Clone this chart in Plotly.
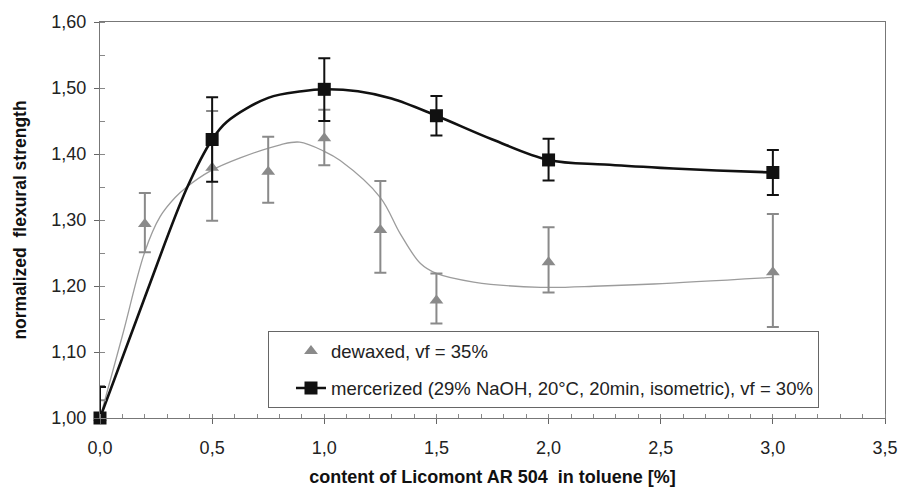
import plotly.graph_objects as go

# ---- data ----
x_dewaxed = [0.0, 0.2, 0.5, 0.75, 1.0, 1.25, 1.5, 2.0, 3.0]
y_dewaxed = [1.000, 1.294, 1.379, 1.373, 1.424, 1.285, 1.178, 1.236, 1.221]
err_dewaxed_plus = [0.027, 0.047, 0.086, 0.053, 0.043, 0.074, 0.041, 0.053, 0.088]
err_dewaxed_minus = [0.0, 0.043, 0.080, 0.047, 0.041, 0.065, 0.035, 0.046, 0.083]

x_merc = [0.0, 0.5, 1.0, 1.5, 2.0, 3.0]
y_merc = [1.000, 1.422, 1.498, 1.458, 1.391, 1.372]
err_merc_plus = [0.047, 0.064, 0.047, 0.030, 0.032, 0.034]
err_merc_minus = [0.0, 0.064, 0.048, 0.030, 0.031, 0.034]

# fitted trend curves
fit_dewaxed_x = [0.0, 0.1, 0.2, 0.268, 0.335, 0.387, 0.491, 0.625, 0.804, 0.89, 1.0,
                 1.071, 1.25, 1.339, 1.429, 1.5, 1.666, 1.964, 2.232, 2.469, 3.0]
fit_dewaxed_y = [1.000, 1.125, 1.252, 1.305, 1.334, 1.350, 1.374, 1.394, 1.414, 1.418, 1.404,
                 1.390, 1.334, 1.279, 1.234, 1.219, 1.206, 1.198, 1.200, 1.203, 1.213]

fit_merc_x = [0.0, 0.2, 0.387, 0.5, 0.566, 0.75, 0.9, 1.0, 1.15, 1.3, 1.5, 1.75, 2.0, 2.25, 2.5, 2.75, 3.0]
fit_merc_y = [1.000, 1.183, 1.348, 1.422, 1.449, 1.485, 1.495, 1.498, 1.495, 1.484, 1.458, 1.422,
              1.391, 1.384, 1.379, 1.375, 1.372]

name_dewaxed = "dewaxed, vf = 35%"
name_merc = "mercerized (29% NaOH, 20°C, 20min, isometric), vf = 30%"

x_title = "content of Licomont AR 504  in toluene [%]"
y_title = "normalized  flexural strength"

GRAY = "#8a8a8a"
BLACK = "#111111"
FONT = "Liberation Sans, Arial, sans-serif"

fig = go.Figure()

fig.add_trace(go.Scatter(
    x=fit_dewaxed_x, y=fit_dewaxed_y, mode="lines",
    line=dict(color="#9c9c9c", width=1.3, shape="spline"),
    showlegend=False, hoverinfo="skip"))

fig.add_trace(go.Scatter(
    x=fit_merc_x, y=fit_merc_y, mode="lines",
    line=dict(color=BLACK, width=2.6, shape="spline"),
    showlegend=False, hoverinfo="skip"))

fig.add_trace(go.Scatter(
    x=x_dewaxed, y=y_dewaxed, mode="markers", name=name_dewaxed,
    legendgroup="dew",
    marker=dict(symbol="triangle-up", size=12, color=GRAY),
    error_y=dict(type="data", array=err_dewaxed_plus, arrayminus=err_dewaxed_minus,
                 color=GRAY, thickness=2, width=6),
    cliponaxis=False))

fig.add_trace(go.Scatter(
    x=x_merc, y=y_merc, mode="markers", name=name_merc, showlegend=False,
    legendgroup="merc",
    marker=dict(symbol="square", size=13, color=BLACK),
    error_y=dict(type="data", array=err_merc_plus, arrayminus=err_merc_minus,
                 color=BLACK, thickness=2, width=6),
    cliponaxis=False))

# legend-only entry (line + marker) for the mercerized series
fig.add_trace(go.Scatter(
    x=[None], y=[None], mode="lines+markers", name=name_merc, legendgroup="merc",
    line=dict(color=BLACK, width=2.6),
    marker=dict(symbol="square", size=13, color=BLACK)))

fig.update_layout(
    width=900, height=487,
    margin=dict(l=100, r=15, t=20, b=69),
    paper_bgcolor="white", plot_bgcolor="white",
    separators=",.",
    font=dict(family=FONT, size=18, color="#222222"),
    showlegend=True,
    legend=dict(
        x=0.214, y=0.2186, xanchor="left", yanchor="top",
        bgcolor="white", bordercolor="#666666", borderwidth=1,
        font=dict(family=FONT, size=18.5, color="#222222"),
        indentation=22, tracegroupgap=10),
)

fig.update_xaxes(
    range=[0, 3.5], dtick=0.5, tick0=0, tickformat=".1f",
    showgrid=False, zeroline=False, automargin=False,
    showline=True, linecolor="#777777", linewidth=1.3, mirror=True,
    ticks="outside", ticklen=5, tickcolor="#666666", tickwidth=1.3,
    ticklabelstandoff=8,
    minor=dict(ticks="inside", dtick=0.1, ticklen=4, tickcolor="#888888", showgrid=False),
    title=dict(text="<b>" + x_title + "</b>", font=dict(family=FONT, size=18, color="#111111"),
               standoff=14),
)
fig.update_yaxes(
    range=[1.0, 1.6], dtick=0.1, tick0=1.0, tickformat=".2f",
    showgrid=False, zeroline=False, automargin=True,
    showline=True, linecolor="#777777", linewidth=1.3, mirror=True,
    ticks="outside", ticklen=5, tickcolor="#666666", tickwidth=1.3,
    ticklabelstandoff=4,
    minor=dict(ticks="inside", dtick=0.05, ticklen=5, tickcolor="#888888", showgrid=False),
    title=dict(text="<b>" + y_title + "</b>", font=dict(family=FONT, size=17.5, color="#111111"),
               standoff=20),
)

fig.write_html("out.html", config={"displayModeBar": False},
               post_script="document.body.style.margin='0';")
